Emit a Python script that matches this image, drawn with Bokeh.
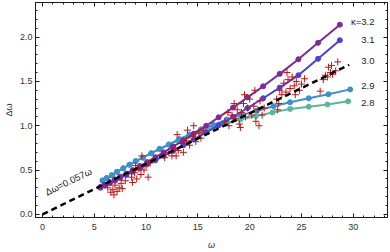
from bokeh.plotting import figure
from bokeh.models import LinearAxis, FixedTicker, PrintfTickFormatter, Range1d
from bokeh.core.properties import value
from bokeh.embed import file_html
from bokeh.resources import INLINE

# ---- data ----
w_32 = [5.6, 6.0, 6.5, 7.0, 7.5, 8.1, 8.7, 9.4, 10.1, 10.9, 11.7, 12.6, 13.6, 14.6, 15.8, 17.0, 18.4, 19.8, 21.3, 22.9, 24.7, 26.6, 28.7]
dw_32 = [0.31, 0.335, 0.365, 0.395, 0.425, 0.46, 0.50, 0.545, 0.59, 0.645, 0.70, 0.765, 0.835, 0.91, 1.00, 1.095, 1.205, 1.32, 1.445, 1.585, 1.75, 1.935, 2.14]

w_31 = [5.6, 6.0, 6.5, 7.0, 7.5, 8.1, 8.7, 9.4, 10.1, 10.9, 11.7, 12.6, 13.6, 14.6, 15.8, 17.0, 18.4, 19.8, 21.3, 22.9, 24.7, 26.6, 28.7]
dw_31 = [0.30, 0.325, 0.35, 0.38, 0.41, 0.445, 0.48, 0.52, 0.565, 0.61, 0.66, 0.715, 0.78, 0.845, 0.925, 1.005, 1.10, 1.20, 1.31, 1.43, 1.57, 1.755, 1.965]

w_29 = [5.8, 6.2, 6.7, 7.2, 7.8, 8.4, 9.0, 9.7, 10.5, 11.3, 12.2, 13.2, 14.2, 15.3, 16.5, 17.8, 19.2, 20.7, 22.3, 23.9, 25.7, 27.6, 29.7]
dw_29 = [0.38, 0.41, 0.44, 0.48, 0.52, 0.56, 0.60, 0.64, 0.69, 0.74, 0.79, 0.85, 0.90, 0.96, 1.01, 1.07, 1.12, 1.17, 1.22, 1.265, 1.31, 1.355, 1.41]

w_28 = [5.8, 6.2, 6.7, 7.2, 7.8, 8.4, 9.0, 9.7, 10.5, 11.3, 12.2, 13.1, 14.1, 15.2, 16.4, 17.7, 19.1, 20.6, 22.2, 23.9, 25.7, 27.5, 29.5]
dw_28 = [0.385, 0.41, 0.445, 0.48, 0.52, 0.56, 0.60, 0.64, 0.69, 0.735, 0.785, 0.835, 0.88, 0.93, 0.98, 1.025, 1.07, 1.11, 1.15, 1.19, 1.215, 1.24, 1.275]

fit_slope = 0.057
fit_w = [0.0, 29.6]

obs_w = [6.3, 6.6, 6.8, 7.0, 7.2, 7.4, 7.6, 6.9, 7.7, 8.0,
         8.6, 8.9, 9.1, 9.3, 9.5, 9.6, 9.8, 10.0, 10.2, 9.0, 8.7, 10.4,
         11.8, 12.2, 12.5, 12.8, 13.1, 13.4, 13.6, 13.9, 14.2, 14.5, 14.8, 15.1, 15.3, 13.0, 14.0, 14.6, 12.9, 15.5,
         17.6, 18.0, 18.3, 18.6, 18.8, 19.0, 19.2, 19.4, 19.6, 19.8, 20.0, 20.2, 20.4, 20.6, 20.8, 21.0, 21.2, 19.5, 18.5, 20.5, 21.4, 17.9, 19.1, 20.9,
         22.6, 22.9, 23.1, 23.3, 23.5, 23.7, 23.9, 24.1, 24.3, 24.5, 24.8, 25.0, 25.3, 22.8, 23.6, 24.4, 26.8, 22.7,
         27.1, 27.3, 27.5, 27.6, 27.8, 28.0, 28.3, 28.5, 27.9]
obs_dw = [0.30, 0.25, 0.28, 0.33, 0.26, 0.30, 0.35, 0.22, 0.29, 0.38,
          0.42, 0.47, 0.40, 0.52, 0.45, 0.66, 0.50, 0.55, 0.42, 0.55, 0.36, 0.58,
          0.64, 0.70, 0.66, 0.75, 0.72, 0.80, 0.70, 0.83, 0.78, 0.88, 0.82, 0.92, 0.86, 0.90, 0.95, 1.00, 0.66, 0.95,
          1.05, 1.00, 1.12, 1.08, 1.18, 1.02, 1.15, 1.25, 1.10, 1.20, 1.30, 1.12, 1.22, 1.05, 1.18, 1.28, 1.12, 1.35, 1.25, 1.40, 1.20, 1.15, 0.98, 1.00,
          1.30, 1.40, 1.35, 1.48, 1.38, 1.52, 1.42, 1.55, 1.45, 1.50, 1.40, 1.47, 1.53, 1.25, 1.60, 1.35, 1.39, 1.18,
          1.52, 1.57, 1.55, 1.66, 1.60, 1.58, 1.62, 1.72, 1.68]

kappa_labels = ["3.1", "3.0", "2.9", "2.8"]
kappa_label_y = [1.965, 1.725, 1.443, 1.255]

x_major = [0, 5, 10, 15, 20, 25, 30]
x_minor = list(range(-1, 34))
y_major = [0.0, 0.5, 1.0, 1.5, 2.0]
y_minor = [i / 10 for i in range(0, 24)]

# ---- figure ----
FONT = "Liberation Sans"
INK = "#1a1a1a"
p = figure(width=390, height=252, output_backend="svg", toolbar_location=None,
           x_range=Range1d(-0.67, 33.3), y_range=Range1d(-0.035, 2.39),
           min_border_left=35, min_border_right=3, min_border_top=2, min_border_bottom=35)
p.grid.visible = False
p.outline_line_color = INK
p.background_fill_color = "white"
p.border_fill_color = "white"

xt = FixedTicker(ticks=x_major, minor_ticks=x_minor)
yt = FixedTicker(ticks=y_major, minor_ticks=y_minor)

for ax in p.xaxis:
    ax.ticker = xt
for ax in p.yaxis:
    ax.ticker = yt
    ax.formatter = PrintfTickFormatter(format="%.1f")

for ax in p.axis:
    ax.major_tick_in = 4
    ax.major_tick_out = 0
    ax.minor_tick_in = 2
    ax.minor_tick_out = 0
    ax.axis_line_color = INK
    ax.major_tick_line_color = INK
    ax.minor_tick_line_color = INK
    ax.major_label_text_font = FONT
    ax.major_label_text_font_size = "9px"
    ax.major_label_text_color = "#333333"
    ax.axis_label_text_font = FONT
    ax.axis_label_text_font_size = "9px"
    ax.axis_label_text_color = "#333333"

p.xaxis.major_label_standoff = 6
p.yaxis.major_label_standoff = 3
p.xaxis.axis_label = "ω"
p.xaxis.axis_label_text_font_style = "italic"
p.xaxis.axis_label_standoff = 7
p.yaxis.axis_label = "Δω"
p.yaxis.axis_label_text_font_style = "normal"
p.yaxis.axis_label_standoff = 3

for loc, tk, ticks in (("above", xt, x_major), ("right", yt, y_major)):
    a = LinearAxis(ticker=tk, major_label_overrides={t: "" for t in ticks}, major_label_standoff=0,
                   major_tick_in=4, major_tick_out=0, minor_tick_in=2, minor_tick_out=0,
                   axis_line_color=INK, major_tick_line_color=INK,
                   minor_tick_line_color=INK)
    p.add_layout(a, loc)

# ---- curves ----
series = [
    (w_28, dw_28, "#5DB59B"),
    (w_29, dw_29, "#3E8FCB"),
    (w_31, dw_31, "#4F40D0"),
    (w_32, dw_32, "#7B2A98"),
]
for xs, ys, c in series:
    p.line(xs, ys, line_color=c, line_width=2)
    p.scatter(xs, ys, size=5, fill_color=c, line_color=c)

p.scatter(obs_w, obs_dw, marker="cross", size=7, line_color="#C41414", line_width=1)

fit_dw = [fit_slope * w for w in fit_w]
p.line(fit_w, fit_dw, line_color="black", line_width=2.5, line_dash="6 4")

# ---- labels ----
p.text(x=[32.05], y=[2.18], text=["κ=3.2"], text_align="right", text_baseline="middle",
       text_font=value(FONT), text_font_size="9.5px", text_color="#222222")
p.text(x=[32.05] * 4, y=kappa_label_y, text=kappa_labels, text_align="right", text_baseline="middle",
       text_font=value(FONT), text_font_size="9.5px", text_color="#222222")
p.text(x=[2.5], y=[0.37], text=["Δω=0.057ω"], angle=26, angle_units="deg",
       text_align="center", text_baseline="middle",
       text_font=value(FONT), text_font_size="9.5px", text_color="#222222")

open("out.html", "w").write(file_html(p, INLINE))
